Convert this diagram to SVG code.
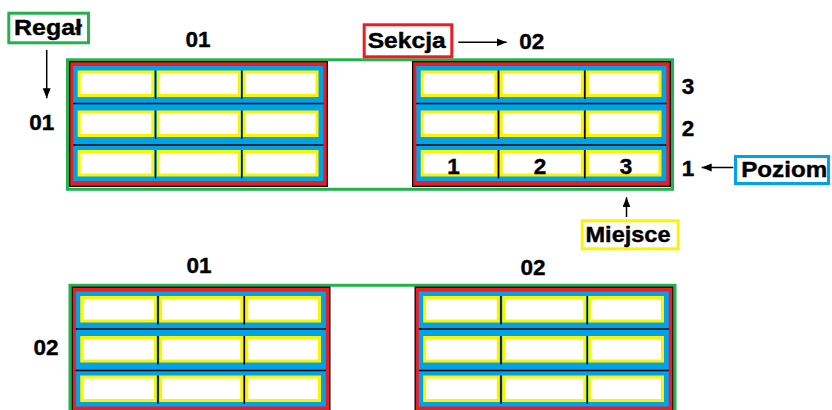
<svg xmlns="http://www.w3.org/2000/svg" xmlns:xlink="http://www.w3.org/1999/xlink" width="832" height="410" viewBox="0 0 832 410">
  <style>
    .frame{fill:none;stroke:#22b14c;stroke-width:3}
    .sec{fill:#ed1c24;stroke:#000;stroke-width:1.3}
    .shelf{fill:#00a2e8}
    .sep{stroke:#000;stroke-width:1.4}
    .cell{fill:#fff;stroke:#fff200;stroke-width:3}
    .num{font-family:"Liberation Sans",Arial,sans-serif;font-weight:bold;font-size:22.5px;fill:#000;stroke:#000;stroke-width:0.4;text-anchor:middle}
    .lbl{font-family:"Liberation Sans",Arial,sans-serif;font-weight:bold;font-size:21.5px;fill:#000;stroke:#000;stroke-width:0.4;text-anchor:middle}
    .conn{stroke:#000;stroke-width:1.5;fill:none}
  </style>
  <defs>
    <marker id="ah" markerUnits="userSpaceOnUse" markerWidth="11" markerHeight="9" refX="10" refY="4" orient="auto">
      <path d="M0,0 L10,4 L0,8 Z" fill="#000"/>
    </marker>
    <g id="sec-tpl">
      <rect class="sec" x="0.65" y="0.65" width="257.7" height="124.7"/>
      <rect class="shelf" x="4.3" y="5" width="250" height="115"/>
      <line class="sep" x1="4.3" y1="42.5" x2="254.3" y2="42.5"/>
      <line class="sep" x1="4.3" y1="84" x2="254.3" y2="84"/>
      <g id="row-tpl">
        <rect class="cell" x="10.2" y="11" width="73.6" height="23.5"/>
        <rect class="cell" x="89.2" y="11" width="81.1" height="23.5"/>
        <rect class="cell" x="175.3" y="11" width="72.7" height="23.5"/>
        <line class="sep" x1="86.5" y1="9.5" x2="86.5" y2="38"/>
        <line class="sep" x1="172.8" y1="9.5" x2="172.8" y2="38"/>
      </g>
      <use xlink:href="#row-tpl" transform="translate(0,40)"/>
      <use xlink:href="#row-tpl" transform="translate(0,79.5)"/>
    </g>
  </defs>
  <rect x="0" y="0" width="832" height="410" fill="#fff"/>

  <g id="regal-01">
    <rect class="frame" x="67.5" y="59.8" width="605" height="129.5"/>
    <g id="r01-s01"><use xlink:href="#sec-tpl" transform="translate(69,61)"/></g>
    <g id="r01-s02"><use xlink:href="#sec-tpl" transform="translate(412,61)"/></g>
    <g id="r01-places">
      <text class="num" x="453.6" y="174">1</text>
      <text class="num" x="540" y="174">2</text>
      <text class="num" x="626" y="174">3</text>
    </g>
  </g>

  <g id="regal-02" transform="translate(2.5,225.5)">
    <rect class="frame" x="67.5" y="59.8" width="605" height="129.5"/>
    <g id="r02-s01"><use xlink:href="#sec-tpl" transform="translate(69,61)"/></g>
    <g id="r02-s02"><use xlink:href="#sec-tpl" transform="translate(412,61)"/></g>
  </g>

  <g id="numbers">
    <text class="num" x="198" y="47">01</text>
    <text class="num" x="531.7" y="49.3">02</text>
    <text class="num" x="41.7" y="130">01</text>
    <text class="num" x="688" y="94">3</text>
    <text class="num" x="688" y="135.5">2</text>
    <text class="num" x="688" y="175.5">1</text>
    <text class="num" x="199" y="273.3">01</text>
    <text class="num" x="533" y="275">02</text>
    <text class="num" x="46" y="355">02</text>
  </g>

  <g id="label-regal">
    <rect x="8.8" y="13.2" width="79.7" height="29.6" fill="#fff" stroke="#22b14c" stroke-width="3"/>
    <text class="lbl" x="48" y="35" textLength="68" lengthAdjust="spacingAndGlyphs">Regał</text>
  </g>
  <g id="label-sekcja">
    <rect x="364.2" y="24.8" width="87.6" height="32" fill="#fff" stroke="#ed1c24" stroke-width="3"/>
    <text class="lbl" x="406.7" y="48.3" textLength="78" lengthAdjust="spacingAndGlyphs">Sekcja</text>
  </g>
  <g id="label-poziom">
    <rect x="735.5" y="156.5" width="93" height="27" fill="#fff" stroke="#00a2e8" stroke-width="3"/>
    <text class="lbl" x="784.2" y="177" textLength="86" lengthAdjust="spacingAndGlyphs">Poziom</text>
  </g>
  <g id="label-miejsce">
    <rect x="582.2" y="220.8" width="96" height="28" fill="#fff" stroke="#fff200" stroke-width="3"/>
    <text class="lbl" x="628" y="242" textLength="85" lengthAdjust="spacingAndGlyphs">Miejsce</text>
  </g>

  <g id="connectors">
    <line class="conn" x1="46.7" y1="50" x2="46.7" y2="98.3" marker-end="url(#ah)"/>
    <line class="conn" x1="458.3" y1="42.3" x2="506.7" y2="42.3" marker-end="url(#ah)"/>
    <line class="conn" x1="733.3" y1="167.5" x2="701.7" y2="167.5" marker-end="url(#ah)"/>
    <line class="conn" x1="626.5" y1="217" x2="626.5" y2="197.3" marker-end="url(#ah)"/>
  </g>
</svg>
